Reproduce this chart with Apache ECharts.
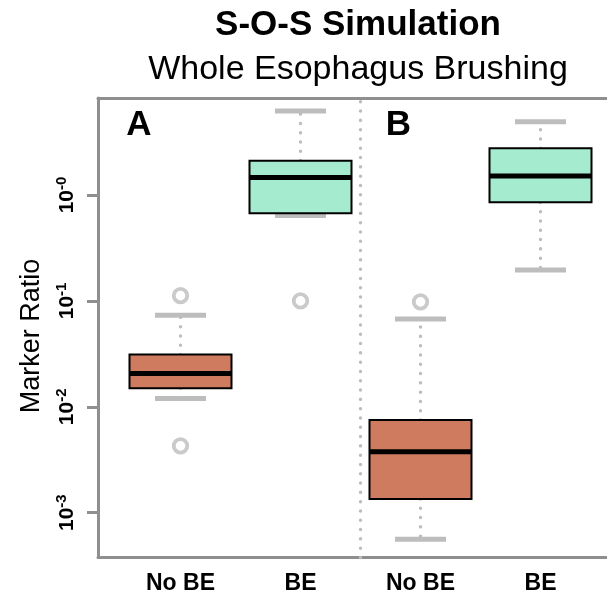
<!DOCTYPE html>
<html><head><meta charset="utf-8">
<script src="https://cdn.jsdelivr.net/npm/echarts@6/dist/echarts.min.js"></script>
<style>html,body{margin:0;padding:0;background:#fff}#c{width:607px;height:594px}</style>
</head><body><div id="c"></div>
<script>
// ---- data ----
const categories = ['No BE', 'BE', 'No BE', 'BE'];
const panelLabels = ['A', 'B'];
const yTickValues = [0.001, 0.01, 0.1, 1];
const yTickExponents = ['-3', '-2', '-1', '-0'];
const lowerWhisker = [0.0120, 0.640, 0.000560, 0.196];
const q1 = [0.0150, 0.672, 0.00135, 0.853];
const median = [0.0206, 1.46, 0.00376, 1.51];
const q3 = [0.0311, 2.11, 0.00749, 2.76];
const upperWhisker = [0.0733, 6.2, 0.0676, 4.92];
const outlierGroup = [1, 1, 2, 3];
const outlierValue = [0.112, 0.00428, 0.100, 0.098];
const dividerPosition = 2.5;

// ---- styling ----
const FONT = '"Liberation Sans", Arial, Helvetica, sans-serif';
const boxColors = ['#CE7B5F', '#A4EBD0', '#CE7B5F', '#A4EBD0'];
const frameGray = '#8f8f8f';
const lightGray = '#bdbdbd';
const L = Math.log10;
const X_MIN = 0.3125, X_MAX = 0.3125 + 509 / 120;

const boxData = categories.map((c, i) => [i + 1, L(lowerWhisker[i]), L(q1[i]), L(median[i]), L(q3[i]), L(upperWhisker[i])]);
const outlierData = outlierGroup.map((g, i) => [g, L(outlierValue[i])]);

function renderBox(params, api) {
  const i = params.dataIndex;
  const x = api.value(0);
  const pLw = api.coord([x, api.value(1)]);
  const pQ1 = api.coord([x, api.value(2)]);
  const pMd = api.coord([x, api.value(3)]);
  const pQ3 = api.coord([x, api.value(4)]);
  const pUw = api.coord([x, api.value(5)]);
  const halfBox = api.size([0.425, 0])[0];
  const halfCap = api.size([0.2125, 0])[0];
  const dotStyle = { stroke: lightGray, lineWidth: 3.4, lineDash: [0.1, 9.2], lineCap: 'round', fill: null };
  const capStyle = { stroke: lightGray, lineWidth: 5, fill: null };
  const children = [];
  if (pUw[1] < pQ3[1] - 2) children.push({ type: 'line', shape: { x1: pQ3[0], y1: pQ3[1], x2: pUw[0], y2: pUw[1] }, style: dotStyle });
  if (pLw[1] > pQ1[1] + 2) children.push({ type: 'line', shape: { x1: pQ1[0], y1: pQ1[1], x2: pLw[0], y2: pLw[1] }, style: dotStyle });
  children.push({ type: 'line', shape: { x1: pUw[0] - halfCap, y1: pUw[1], x2: pUw[0] + halfCap, y2: pUw[1] }, style: capStyle });
  children.push({ type: 'line', shape: { x1: pLw[0] - halfCap, y1: pLw[1], x2: pLw[0] + halfCap, y2: pLw[1] }, style: capStyle });
  children.push({ type: 'rect', shape: { x: pQ3[0] - halfBox, y: pQ3[1], width: 2 * halfBox, height: pQ1[1] - pQ3[1] }, style: { fill: boxColors[i], stroke: '#000', lineWidth: 2 } });
  children.push({ type: 'line', shape: { x1: pMd[0] - halfBox, y1: pMd[1], x2: pMd[0] + halfBox, y2: pMd[1] }, style: { stroke: '#000', lineWidth: 5 } });
  return { type: 'group', children };
}

const chart = echarts.init(document.getElementById('c'), null, { renderer: 'canvas' });
chart.setOption({
  animation: false,
  backgroundColor: '#fff',
  title: [
    { text: 'S-O-S Simulation', left: 358, top: 8, textAlign: 'center', padding: 0,
      textStyle: { fontFamily: FONT, fontSize: 35, fontWeight: 'bold', color: '#000' } },
    { text: 'Whole Esophagus Brushing', left: 358, top: 53, textAlign: 'center', padding: 0,
      textStyle: { fontFamily: FONT, fontSize: 34, fontWeight: 'normal', color: '#000' } }
  ],
  grid: { left: 98, top: 98, right: 0, bottom: 36.5, show: false, containLabel: false, outerBoundsMode: 'none' },
  xAxis: [{
    type: 'value', position: 'bottom', min: X_MIN, max: X_MAX,
    axisLine: { show: true, onZero: false, lineStyle: { color: frameGray, width: 3 } },
    axisTick: { show: false }, splitLine: { show: false },
    axisLabel: {
      customValues: [1, 2, 3, 4],
      formatter: v => categories[Math.round(v) - 1],
      fontFamily: FONT, fontSize: 23, fontWeight: 'bold', color: '#000', margin: 15
    }
  }, {
    type: 'value', position: 'top', min: X_MIN, max: X_MAX,
    axisLine: { show: true, onZero: false, lineStyle: { color: frameGray, width: 3 } },
    axisTick: { show: false }, splitLine: { show: false }, axisLabel: { show: false }
  }],
  yAxis: {
    type: 'value', min: -3.423, max: 0.916,
    axisLine: { show: true, onZero: false, lineStyle: { color: frameGray, width: 3 } },
    splitLine: { show: false },
    axisTick: { show: true, customValues: yTickValues.map(L), length: 11, lineStyle: { color: frameGray, width: 3 } },
    axisLabel: {
      customValues: yTickValues.map(L),
      rotate: 90, margin: 18,
      formatter: v => {
        const idx = yTickValues.findIndex(t => Math.abs(L(t) - v) < 1e-6);
        return '{b|10}{s|' + yTickExponents[idx] + '}';
      },
      rich: {
        b: { fontFamily: FONT, fontSize: 21, fontWeight: 'bold', color: '#000', lineHeight: 26, verticalAlign: 'middle' },
        s: { fontFamily: FONT, fontSize: 15, fontWeight: 'bold', color: '#000', lineHeight: 17, verticalAlign: 'top' }
      }
    }
  },
  graphic: [
    { type: 'text', x: 32, y: 336, rotation: Math.PI / 2, silent: true,
      style: { text: 'Marker Ratio', font: '27px ' + FONT, fill: '#000', align: 'center', verticalAlign: 'middle', textAlign: 'center', textVerticalAlign: 'middle' } },
    { type: 'text', x: 139, y: 125.5, silent: true,
      style: { text: panelLabels[0], font: 'bold 35px ' + FONT, fill: '#000', align: 'center', verticalAlign: 'middle', textAlign: 'center', textVerticalAlign: 'middle' } },
    { type: 'text', x: 398.5, y: 125.5, silent: true,
      style: { text: panelLabels[1], font: 'bold 35px ' + FONT, fill: '#000', align: 'center', verticalAlign: 'middle', textAlign: 'center', textVerticalAlign: 'middle' } }
  ],
  series: [
    {
      type: 'custom', renderItem: renderBox, data: boxData, silent: true,
      encode: { x: 0, y: [1, 2, 3, 4, 5] }, clip: false, z: 3
    },
    {
      type: 'scatter', data: outlierData, silent: true, z: 4,
      symbol: 'circle', symbolSize: 13.5,
      itemStyle: { color: 'rgba(0,0,0,0)', borderColor: lightGray, borderWidth: 3.8 },
      markLine: {
        silent: true, symbol: ['none', 'none'], label: { show: false },
        lineStyle: { color: lightGray, width: 3.4, type: [0.1, 9.2], cap: 'round' },
        data: [{ xAxis: dividerPosition }]
      }
    }
  ]
});
</script>
</body></html>
